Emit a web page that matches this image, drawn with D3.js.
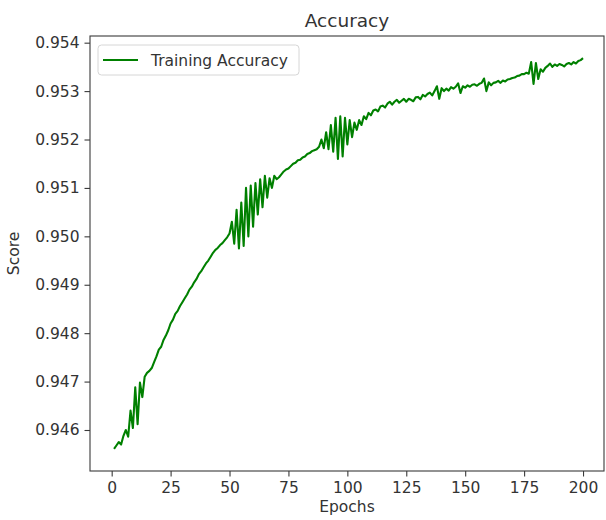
<!DOCTYPE html>
<html>
<head>
<meta charset="utf-8">
<script src="https://cdn.jsdelivr.net/npm/d3@7"></script>
<style>
  html, body { margin: 0; padding: 0; background: #fff; }
  svg { display: block; }
  text { font-family: "DejaVu Sans", sans-serif; fill: #333; }
</style>
</head>
<body>
<svg id="chart" width="606" height="520"></svg>
<script>
// ---- Data ----
const title = "Accuracy";
const xLabel = "Epochs";
const yLabel = "Score";
const seriesName = "Training Accuracy";
const xTicks = [0, 25, 50, 75, 100, 125, 150, 175, 200];
const yTicks = [0.946, 0.947, 0.948, 0.949, 0.950, 0.951, 0.952, 0.953, 0.954];
const epochs = d3.range(1, 201);
const trainingAccuracy = [
  0.94561, 0.94568, 0.94575, 0.94570, 0.94588, 0.94600, 0.94586, 0.94640, 0.94604, 0.94688,
  0.94612, 0.94698, 0.94668, 0.94710, 0.94718, 0.94722, 0.94728, 0.94740, 0.94752, 0.94766,
  0.94772, 0.94786, 0.94795, 0.94806, 0.94820, 0.94828, 0.94840, 0.94846, 0.94856, 0.94864,
  0.94872, 0.94880, 0.94890, 0.94896, 0.94905, 0.94912, 0.94922, 0.94928, 0.94936, 0.94944,
  0.94950, 0.94958, 0.94966, 0.94972, 0.94976, 0.94982, 0.94986, 0.94992, 0.94998, 0.95006,
  0.95030, 0.94985, 0.95055, 0.94975, 0.95070, 0.94980, 0.95100, 0.95000, 0.95105, 0.95020,
  0.95110, 0.95045, 0.95118, 0.95060, 0.95125, 0.95080, 0.95120, 0.95100, 0.95125, 0.95118,
  0.95122, 0.95128, 0.95134, 0.95138, 0.95140, 0.95145, 0.95150, 0.95152, 0.95157, 0.95158,
  0.95163, 0.95165, 0.95170, 0.95172, 0.95176, 0.95178, 0.95180, 0.95185, 0.95200, 0.95182,
  0.95215, 0.95180, 0.95230, 0.95175, 0.95245, 0.95160, 0.95248, 0.95165, 0.95245, 0.95190,
  0.95240, 0.95205, 0.95235, 0.95220, 0.95240, 0.95230, 0.95248, 0.95242, 0.95255, 0.95250,
  0.95260, 0.95262, 0.95258, 0.95268, 0.95270, 0.95266, 0.95274, 0.95278, 0.95272, 0.95278,
  0.95282, 0.95276, 0.95280, 0.95284, 0.95278, 0.95284, 0.95282, 0.95279, 0.95287, 0.95288,
  0.95283, 0.95292, 0.95289, 0.95294, 0.95297, 0.95291, 0.95300, 0.95310, 0.95284, 0.95306,
  0.95300, 0.95305, 0.95301, 0.95308, 0.95305, 0.95309, 0.95316, 0.95296, 0.95310, 0.95307,
  0.95312, 0.95309, 0.95313, 0.95314, 0.95311, 0.95315, 0.95317, 0.95326, 0.95300, 0.95318,
  0.95312, 0.95317, 0.95318, 0.95321, 0.95317, 0.95322, 0.95320, 0.95324, 0.95325, 0.95327,
  0.95328, 0.95331, 0.95332, 0.95335, 0.95335, 0.95338, 0.95336, 0.95360, 0.95315, 0.95358,
  0.95325, 0.95345, 0.95340, 0.95348, 0.95352, 0.95357, 0.95350, 0.95355, 0.95352, 0.95356,
  0.95354, 0.95351, 0.95356, 0.95358, 0.95355, 0.95360, 0.95357, 0.95362, 0.95364, 0.95368
];
const lineColor = "#008000";

// ---- Layout ----
const plot = { left: 90, right: 604, top: 36, bottom: 471 };
const svg = d3.select("#chart");

const x = d3.scaleLinear().domain([-9.2, 208.9]).range([plot.left, plot.right]);
const y = d3.scaleLinear().domain([0.945153, 0.954138]).range([plot.bottom, plot.top]);

// Line
const line = d3.line().x((d, i) => x(epochs[i])).y(d => y(d));
svg.append("path")
  .datum(trainingAccuracy)
  .attr("fill", "none")
  .attr("stroke", lineColor)
  .attr("stroke-width", 2.1)
  .attr("stroke-linejoin", "round")
  .attr("d", line);

// Frame (spines)
svg.append("rect")
  .attr("x", plot.left).attr("y", plot.top)
  .attr("width", plot.right - plot.left).attr("height", plot.bottom - plot.top)
  .attr("fill", "none").attr("stroke", "#3a3a3a").attr("stroke-width", 1.1);

// Axes
const fontSize = 15.5;
const xAxis = svg.append("g")
  .attr("transform", `translate(0,${plot.bottom})`)
  .call(d3.axisBottom(x).tickValues(xTicks).tickFormat(d3.format("d")).tickSize(5.5).tickPadding(5));
const yAxis = svg.append("g")
  .attr("transform", `translate(${plot.left},0)`)
  .call(d3.axisLeft(y).tickValues(yTicks).tickFormat(d3.format(".3f")).tickSize(5.5).tickPadding(5));
[xAxis, yAxis].forEach(g => {
  g.select(".domain").remove();
  g.selectAll(".tick line").attr("stroke", "#3a3a3a").attr("stroke-width", 1.1);
  g.selectAll(".tick text")
    .attr("font-family", "DejaVu Sans, sans-serif")
    .attr("font-size", fontSize)
    .attr("fill", "#333");
});

// Title & labels
const cx = (plot.left + plot.right) / 2;
svg.append("text").attr("x", cx).attr("y", 27)
  .attr("text-anchor", "middle").attr("font-size", 18.5).text(title);
svg.append("text").attr("x", cx).attr("y", 511.5)
  .attr("text-anchor", "middle").attr("font-size", fontSize).text(xLabel);
svg.append("text")
  .attr("transform", `translate(19,${(plot.top + plot.bottom) / 2}) rotate(-90)`)
  .attr("text-anchor", "middle").attr("font-size", fontSize).text(yLabel);

// Legend
const legend = svg.append("g");
legend.append("rect")
  .attr("x", 98).attr("y", 45).attr("width", 201).attr("height", 30)
  .attr("rx", 3.5).attr("fill", "#fff").attr("fill-opacity", 0.8)
  .attr("stroke", "#d6d6d6").attr("stroke-width", 1);
legend.append("line")
  .attr("x1", 103).attr("x2", 138).attr("y1", 60).attr("y2", 60)
  .attr("stroke", lineColor).attr("stroke-width", 2.1);
legend.append("text")
  .attr("x", 151).attr("y", 65.5)
  .attr("font-size", fontSize).text(seriesName);
</script>
</body>
</html>
